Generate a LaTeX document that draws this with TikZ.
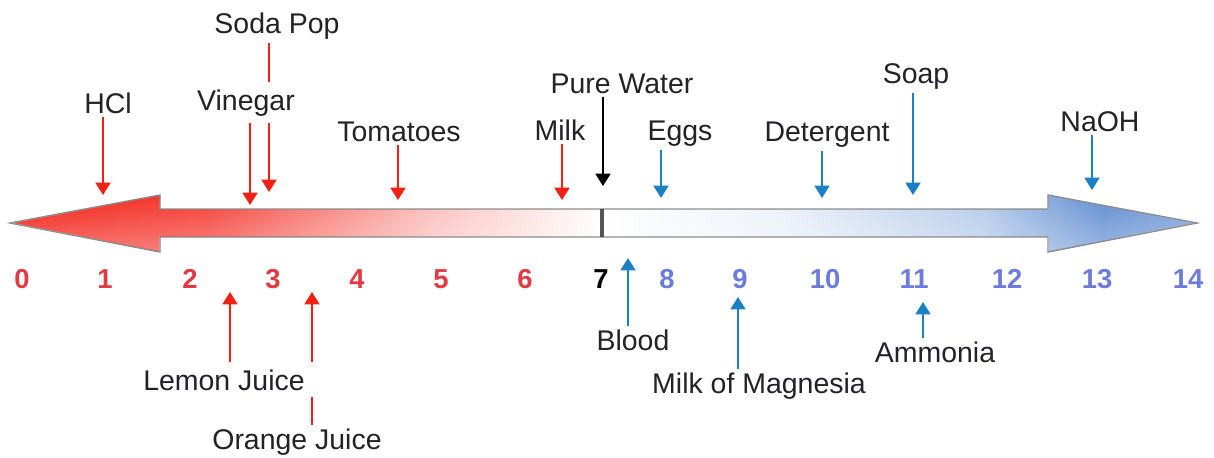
\documentclass[tikz,border=0pt]{standalone}
\usepackage{fontspec}
\setmainfont{Liberation Sans}
\usetikzlibrary{arrows.meta,backgrounds,fadings}

\definecolor{acidred}{RGB}{243,32,22}
\definecolor{acidnum}{RGB}{226,58,66}
\definecolor{basebl}{RGB}{28,128,196}
\definecolor{basenum}{RGB}{108,124,222}
\definecolor{headbl}{RGB}{92,138,208}
\definecolor{rimgray}{RGB}{140,140,140}
\definecolor{textgray}{RGB}{34,34,40}

\pgfdeclarehorizontalshading{acidfade}{100bp}{color(0bp)=(acidred); color(25bp)=(acidred); color(42bp)=(acidred!85); color(60bp)=(acidred!30); color(75bp)=(white); color(100bp)=(white)}
\pgfdeclarehorizontalshading{basefade}{100bp}{color(0bp)=(white); color(25bp)=(white); color(40bp)=(headbl!12); color(57bp)=(headbl!45); color(67bp)=(headbl!95); color(75bp)=(headbl!80); color(100bp)=(headbl!80)}

\newcommand\phlabel{\fontsize{16.2}{19}\selectfont}
\newcommand\phnumfont{\fontsize{15.6}{19}\selectfont\bfseries}

\begin{document}
\begin{tikzpicture}[x=0.02cm,y=-0.02cm,>={Triangle[width=8.5pt,length=7pt]},
  every node/.style={text=textgray,font=\phlabel,inner sep=2pt,anchor=base},
  acidptr/.style={->,draw=acidred,line width=1.1pt},
  baseptr/.style={->,draw=basebl,line width=1pt},
  neutptr/.style={->,draw=black,line width=1pt},
  cover/.style={fill=white,inner xsep=6pt,inner ysep=4pt},
  phnum/.style={font=\phnumfont}]
  \useasboundingbox (0,0) rectangle (1214,457);

  % the scale arrow
  \shade[shading=acidfade,draw=rimgray,line width=0.8pt]
    (10,223) -- (160,195) -- (160,209) -- (602,209) -- (602,237) -- (160,237) -- (160,252) -- cycle;
  \shade[shading=basefade,draw=rimgray,line width=0.8pt]
    (602,209) -- (1048,209) -- (1048,195) -- (1197,223) -- (1048,252) -- (1048,237) -- (602,237) -- cycle;
  % soft gloss towards the lower edge
  \fill[white,opacity=0.35,path fading=north]
    (11,223) -- (160,196) -- (160,210) -- (1048,210) -- (1048,196) -- (1196,223)
    -- (1048,251) -- (1048,236) -- (160,236) -- (160,251) -- cycle;
  \draw[rimgray!60!black,line width=2.2pt] (602,209) -- (602,237);

  \foreach \v/\x/\c in {0/22/acidnum,1/105/acidnum,2/190/acidnum,3/273/acidnum,
      4/357/acidnum,5/441/acidnum,6/525/acidnum,7/601/black,8/667/basenum,
      9/740/basenum,10/825/basenum,11/914/basenum,12/1007/basenum,
      13/1097/basenum,14/1188/basenum}
    \node[phnum,text=\c] (ph\v) at (\x,288) {\v};

  % acids above
  \node (soda) at (277,33) {Soda Pop};
  \node (hcl) at (108,113) {HCl};
  \node[cover] (vinegar) at (246,110) {Vinegar};
  \node (tomatoes) at (399,141) {Tomatoes};
  \node (milk) at (560,140) {Milk};
  \node (water) at (622,93) {Pure Water};
  % bases above
  \node (eggs) at (680,140) {Eggs};
  \node (detergent) at (827,141) {Detergent};
  \node (soap) at (916,83) {Soap};
  \node (naoh) at (1100,131) {NaOH};
  % below
  \node[cover] (lemon) at (224,390) {Lemon Juice};
  \node (orange) at (297,449) {Orange Juice};
  \node (blood) at (633,350) {Blood};
  \node (magnesia) at (759,393) {Milk of Magnesia};
  \node (ammonia) at (935,362) {Ammonia};

  \coordinate (soda-pt) at (269,192);
  \coordinate (hcl-pt) at (103,195);
  \coordinate (vinegar-pt) at (250,205);
  \coordinate (tomatoes-pt) at (398,200);
  \coordinate (milk-pt) at (562,200);
  \coordinate (water-pt) at (603,186);
  \coordinate (eggs-pt) at (661,198);
  \coordinate (detergent-pt) at (822,198);
  \coordinate (soap-pt) at (913,195);
  \coordinate (naoh-pt) at (1092,190);
  \coordinate (lemon-pt) at (230,292);
  \coordinate (orange-pt) at (312,292);
  \coordinate (blood-pt) at (628,258);
  \coordinate (magnesia-pt) at (738,297);
  \coordinate (ammonia-pt) at (923,302);

  \begin{scope}[on background layer]
    \path
      (soda.south -| soda-pt) edge[acidptr] (soda-pt)
      (hcl.south -| hcl-pt) edge[acidptr] (hcl-pt)
      (vinegar.south -| vinegar-pt) edge[acidptr] (vinegar-pt)
      (tomatoes.south -| tomatoes-pt) edge[acidptr] (tomatoes-pt)
      (milk.south -| milk-pt) edge[acidptr] (milk-pt)
      (lemon.north -| lemon-pt) edge[acidptr] (lemon-pt)
      (orange.north -| orange-pt) edge[acidptr] (orange-pt)
      (water.south -| water-pt) edge[neutptr] (water-pt)
      (eggs.south -| eggs-pt) edge[baseptr] (eggs-pt)
      (detergent.south -| detergent-pt) edge[baseptr] (detergent-pt)
      (soap.south -| soap-pt) edge[baseptr] (soap-pt)
      (naoh.south -| naoh-pt) edge[baseptr] (naoh-pt)
      (blood.north -| blood-pt) edge[baseptr] (blood-pt)
      (magnesia.north -| magnesia-pt) edge[baseptr] (magnesia-pt)
      (ammonia.north -| ammonia-pt) edge[baseptr] (ammonia-pt);
  \end{scope}
\end{tikzpicture}
\end{document}
